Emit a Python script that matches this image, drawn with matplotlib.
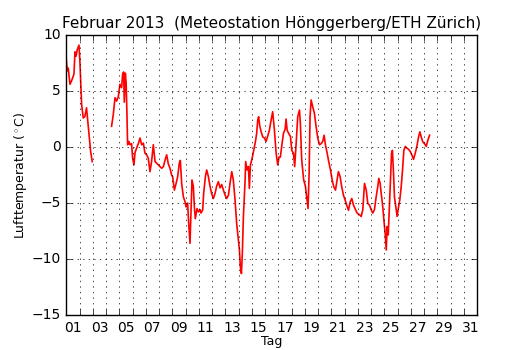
import numpy as np
import matplotlib
matplotlib.use("Agg")
import matplotlib.pyplot as plt
from matplotlib.ticker import FixedLocator, FixedFormatter, MultipleLocator

# Tag (Tag des Monats + Stunde/24) und Lufttemperatur in °C
tag = [
    1.00, 1.08, 1.15, 1.28, 1.40, 1.58, 1.66, 1.74, 1.83, 1.96, 2.03, 2.16, 2.28, 2.40,
    2.53, 2.60, 2.74, 2.84, 2.96,
    3.50,
    4.42, 4.55, 4.68, 4.80, 4.93, 5.05, 5.18, 5.25, 5.33, 5.38, 5.46, 5.52, 5.58, 5.63,
    5.73, 5.81, 5.93, 6.01, 6.11, 6.19, 6.31, 6.44, 6.57, 6.69, 6.82, 6.94, 7.07, 7.19,
    7.32, 7.44, 7.57, 7.70, 7.82, 7.95, 8.08, 8.20, 8.33, 8.45, 8.58, 8.70, 8.83, 8.95,
    9.03, 9.16, 9.29, 9.41, 9.53, 9.61, 9.71, 9.84, 9.97, 10.04, 10.16, 10.24, 10.34,
    10.42, 10.49, 10.59, 10.67, 10.74, 10.87, 10.99, 11.10, 11.17, 11.30, 11.37, 11.50,
    11.60, 11.73, 11.85, 11.97, 12.10, 12.23, 12.35, 12.48, 12.61, 12.73, 12.86, 12.99,
    13.11, 13.24, 13.36, 13.49, 13.61, 13.74, 13.86, 13.99, 14.07, 14.14, 14.22, 14.29,
    14.37, 14.50, 14.54, 14.65, 14.75, 14.82, 14.90, 15.03, 15.15, 15.28, 15.37, 15.45,
    15.52, 15.60, 15.71, 15.83, 15.96,
    16.08, 16.20, 16.33, 16.46, 16.58, 16.71, 16.84, 16.96, 17.06, 17.16, 17.26, 17.39,
    17.52, 17.59, 17.67, 17.79, 17.92, 18.02, 18.15, 18.24, 18.35, 18.47, 18.60, 18.67,
    18.77, 18.92, 19.05, 19.18, 19.25, 19.33, 19.40, 19.48, 19.60, 19.73, 19.86, 19.98,
    20.11, 20.24, 20.36, 20.46, 20.56, 20.69, 20.81, 20.94, 21.07, 21.19, 21.32, 21.44,
    21.54, 21.67, 21.79, 21.92, 22.05, 22.17, 22.30, 22.43, 22.55, 22.68,
    22.95, 23.13, 23.26, 23.38, 23.51, 23.64, 23.76, 23.89, 24.01, 24.13, 24.26, 24.39,
    24.51, 24.59, 24.69, 24.77, 24.89, 24.97, 25.07, 25.15, 25.22, 25.30, 25.37, 25.47,
    25.55, 25.62, 25.70, 25.77, 25.87, 25.97, 26.08, 26.17, 26.28, 26.38, 26.48, 26.59,
    26.70, 26.83, 26.96, 27.08, 27.21, 27.34, 27.46, 27.59, 27.69, 27.79, 27.91, 28.04,
    28.17, 28.29, 28.42,
]
temp = [
    7.8, 6.8, 7.05, 5.6, 5.9, 6.5, 8.5, 8.1, 8.7, 9.1, 7.65, 3.8, 2.6, 2.7,
    3.5, 2.6, 0.8, -0.4, -1.3,
    np.nan,
    1.85, 2.9, 4.4, 4.1, 4.5, 5.6, 5.3, 6.45, 6.7, 4.0, 6.6, 5.7, 3.0, 0.2,
    0.5, 0.2, 0.3, -1.0, -1.6, -0.5, -0.1, 0.3, 0.8, 0.2, 0.35, -0.55, -0.7, -1.0,
    -2.2, -1.3, 0.2, -1.3, -1.45, -1.6, -1.75, -1.9, -1.75, -1.2, -0.7, -1.5, -1.9, -2.5,
    -2.65, -3.85, -3.25, -2.65, -1.45, -1.2, -3.25, -4.45, -4.9, -5.35, -5.0, -6.8, -8.6,
    -5.6, -2.95, -3.5, -5.35, -6.4, -5.5, -5.8, -5.6, -5.9, -5.6, -4.15, -2.65,
    -2.05, -2.65, -3.5, -4.15, -4.6, -4.15, -3.5, -3.1, -3.65, -3.35, -3.85, -4.3,
    -4.6, -4.3, -3.25, -2.2, -2.95, -4.75, -6.8, -8.3, -9.2, -10.7, -11.3, -9.5,
    -6.2, -2.95, -1.3, -2.05, -1.75, -3.7, -1.6, -1.0, -0.3, 0.5, 1.2, 2.4,
    2.7, 1.9, 1.35, 0.9, 0.8,
    0.5, 0.95, 1.5, 2.4, 3.15, 1.5, -0.55, -1.6, -0.9, -0.9, 0.05, 1.2,
    1.6, 2.5, 1.5, 1.2, 0.95, -0.3, -0.55, -1.75, 0.3, 2.7, 3.3, 2.1,
    -1.15, -2.95, -3.5, -4.75, -5.5, -2.35, 2.7, 4.2, 3.6, 3.0, 1.8, 0.8,
    0.2, 0.3, 0.5, 1.05, 0.2, -0.55, -1.3, -2.05, -2.95, -3.55, -3.85, -2.95,
    -2.2, -2.65, -3.55, -4.3, -4.75, -5.2, -5.65, -4.9, -4.6, -5.2,
    -5.9, -6.05, -6.2, -5.6, -3.25, -3.85, -5.05, -5.2, -5.6, -5.9, -5.6, -4.45,
    -3.55, -2.8, -3.25, -4.15, -5.35, -6.5, -7.7, -9.2, -7.1, -7.85, -5.9, -2.95,
    -0.55, -0.3, -2.35, -4.45, -5.35, -6.2, -5.35, -4.75, -3.55, -2.05, -0.3, 0.05,
    -0.1, -0.2, -0.4, -0.7, -1.1, -0.55, 0.05, 0.9, 1.35, 0.9, 0.45, 0.3,
    0.05, 0.6, 1.05,
]

tage_ticks = list(range(1, 33))
label_tage = list(range(1, 32, 2))
tag_labels = ["%02d" % d for d in label_tage]

plt.style.use("classic")
fig = plt.figure(figsize=(5.3, 3.5), dpi=100)
ax = fig.add_axes([0.125, 0.1, 0.775, 0.8])

ax.plot(tag, temp, "r-", lw=1.2)

ax.set_xlim(1, 32)
ax.set_ylim(-15, 10)
ax.xaxis.set_major_locator(FixedLocator(tage_ticks))
ax.xaxis.set_major_formatter(FixedFormatter([""] * len(tage_ticks)))
ax.xaxis.set_minor_locator(FixedLocator([d + 0.5 for d in label_tage]))
ax.xaxis.set_minor_formatter(FixedFormatter(tag_labels))
ax.tick_params(axis="x", which="minor", length=0, labelsize=10)
ax.tick_params(axis="y", labelsize=10)
ax.yaxis.set_major_locator(MultipleLocator(5))
ax.grid(True, which="major")

ax.set_xlabel("Tag", fontsize=9, labelpad=0)
ax.set_ylabel(r"Lufttemperatur ($^\circ$C)", fontsize=9, labelpad=2)
ax.set_title("Februar 2013  (Meteostation Hönggerberg/ETH Zürich)", fontsize=11)

fig.savefig("out.png", dpi=100)
